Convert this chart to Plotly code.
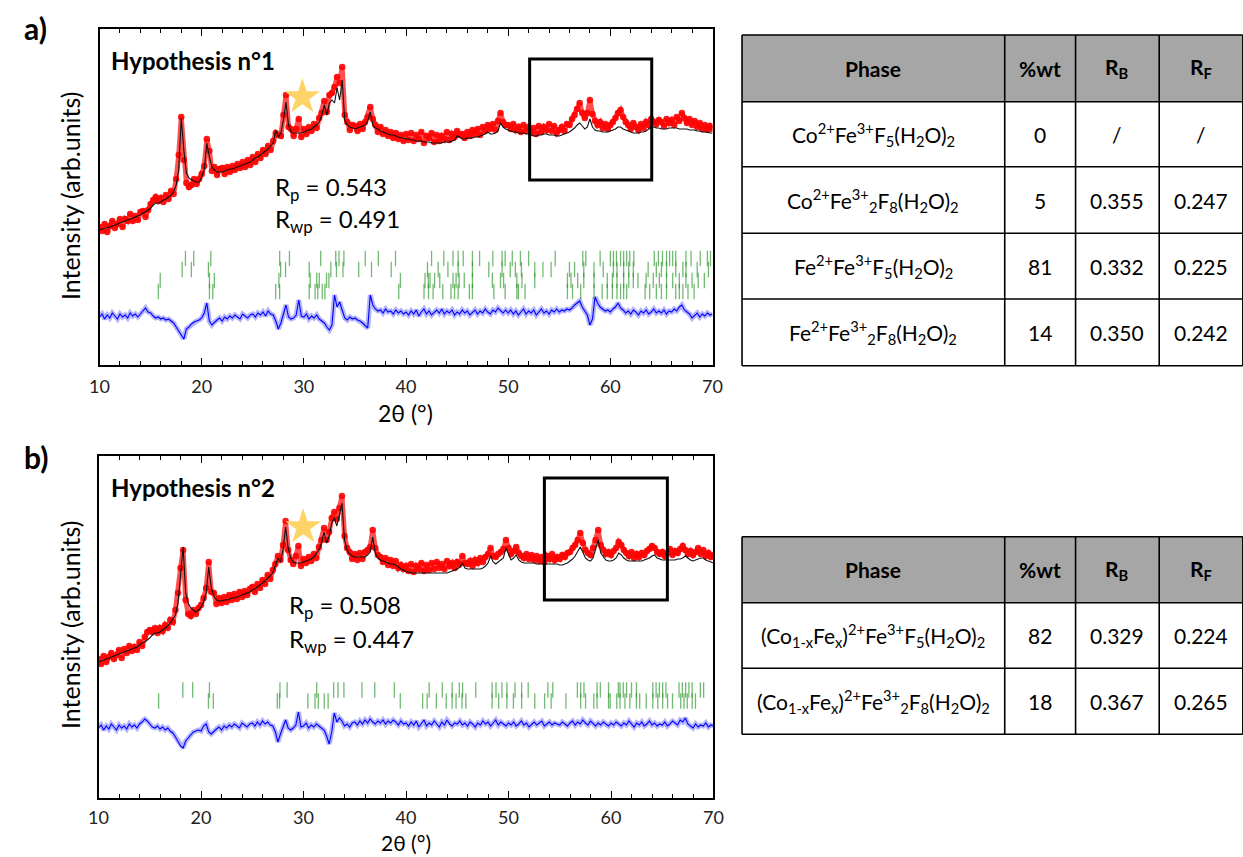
import numpy as np
import plotly.graph_objects as go

W, H = 1243, 857

# ---------------- DATA ----------------
# measurement grid (2theta, degrees), 0.25 deg step from 10 to 70
two_theta = np.round(np.arange(10, 70.001, 0.25), 2)

# Panel a) Hypothesis n°1 (arbitrary intensity units)
obs_a = [
    138,134,141,133,139,144,137,141,146,138,146,144,151,144,149,145,153,154,148,155,
    161,165,168,164,167,163,170,166,174,171,186,210,248,205,182,178,180,186,181,186,
    191,199,226,214,194,198,190,196,197,191,198,193,199,195,201,197,203,198,205,200,
    208,203,211,207,215,211,219,215,224,232,230,229,250,270,238,236,229,236,246,228,
    236,231,238,234,241,237,247,252,264,253,270,272,278,288,282,298,250,243,235,240,
    239,234,241,236,243,248,258,246,240,233,238,231,235,229,233,227,232,226,230,224,
    231,225,232,224,230,226,233,222,229,227,232,223,230,224,229,226,233,225,231,228,
    234,230,231,227,233,229,235,231,236,230,238,234,240,236,241,235,244,252,243,240,
    240,236,241,235,238,233,240,234,238,232,237,231,239,233,238,235,241,234,239,232,
    235,238,234,241,240,246,250,256,262,252,247,252,265,251,244,240,243,237,241,236,
    240,243,247,252,255,248,243,240,236,242,238,235,241,237,243,240,246,243,241,245,
    243,239,246,242,245,240,248,244,252,247,242,246,240,244,238,242,236,240,235,239,
    236]
calc_a = [
    135,136,137,137,138,139,140,141,142,143,144,145,146,147,148,149,150,152,153,155,
    157,160,162,162,163,165,166,168,170,173,180,195,247,215,192,187,185,184,183,183,
    188,195,222,208,198,195,193,193,193,194,195,196,196,197,198,199,200,201,202,203,
    205,207,208,210,212,214,216,219,222,235,228,232,245,263,240,233,232,232,232,232,
    233,234,235,236,238,240,243,250,260,250,262,265,262,277,265,285,245,240,238,237,
    236,237,238,239,240,244,253,240,237,236,234,233,232,231,230,230,229,228,227,227,
    226,226,225,225,224,224,224,223,223,223,222,222,222,222,222,223,223,223,224,225,
    229,228,226,226,227,227,227,228,228,229,230,231,233,231,231,232,234,242,238,236,
    235,234,233,233,232,232,232,231,231,230,229,229,230,230,231,231,230,230,230,229,
    229,230,231,232,233,235,237,240,242,239,236,238,246,238,235,234,234,233,233,233,
    234,235,236,238,238,236,235,234,233,232,232,232,233,233,234,236,238,238,237,237,
    236,236,236,237,237,237,237,236,236,236,236,235,235,235,234,234,233,233,233,232,
    232]
diff_a = [
    48,51,46,50,47,52,49,46,51,48,50,47,52,49,51,48,51,54,57,53,
    52,49,47,48,46,47,45,46,44,42,38,34,30,26,36,38,41,43,44,45,
    47,52,62,44,40,43,45,47,44,48,46,49,47,50,48,46,51,49,47,50,
    51,48,52,50,53,49,54,51,50,44,36,42,52,60,48,46,47,50,65,49,
    48,51,46,49,47,50,46,44,42,38,35,40,70,58,63,55,47,45,48,46,
    47,45,44,42,39,37,70,60,56,54,55,52,56,53,54,51,55,52,54,51,
    53,50,54,51,55,49,53,56,51,54,50,53,55,52,56,51,54,52,55,50,
    53,51,55,52,54,50,53,55,51,54,52,56,53,51,55,53,57,54,52,55,
    52,55,51,54,50,53,56,51,54,52,55,50,53,56,52,54,51,55,53,56,
    53,55,54,56,55,57,60,62,64,58,54,50,40,46,68,62,58,56,54,55,
    53,56,58,62,57,55,52,54,51,55,53,50,54,52,55,51,53,56,52,54,
    52,55,51,54,53,56,54,58,60,55,53,51,47,50,52,48,51,49,52,50,
    51]

# Panel b) Hypothesis n°2
obs_b = [
    139,134,142,136,141,145,139,143,148,140,149,145,152,147,151,148,156,152,161,166,
    168,166,170,165,170,167,173,170,178,176,188,205,230,248,198,184,182,188,184,190,
    193,200,210,236,206,205,194,200,195,201,196,203,198,204,199,206,201,207,203,209,
    211,206,214,210,218,214,223,219,228,234,242,238,253,277,248,238,234,242,252,232,
    239,235,241,237,244,240,251,258,270,258,266,280,286,279,290,302,262,250,246,239,
    244,238,245,239,246,248,251,268,250,243,241,236,240,233,238,232,237,230,233,229,
    232,227,234,226,232,229,235,227,233,228,235,229,236,230,234,229,237,232,235,230,
    236,234,242,235,234,237,232,238,235,240,236,241,244,250,242,241,244,246,249,258,
    250,244,247,251,245,242,240,244,239,243,238,242,237,241,236,242,239,244,238,241,
    239,243,241,245,246,250,253,258,265,255,248,245,243,250,258,268,253,248,244,246,
    243,247,250,256,253,248,245,242,246,240,244,241,245,243,247,249,252,250,246,244,
    246,242,245,249,243,247,245,249,252,248,244,247,243,246,250,244,248,242,245,241,
    243]
calc_b = [
    136,137,138,139,140,141,142,143,144,145,146,147,148,149,150,151,153,155,156,158,
    160,163,165,165,166,168,170,172,175,179,183,195,225,251,205,195,190,188,186,188,
    191,196,205,231,210,202,198,197,197,198,198,199,200,200,201,202,203,204,205,206,
    208,209,211,213,215,217,220,222,225,232,240,236,248,271,250,240,236,235,235,235,
    236,237,238,239,241,244,248,255,266,255,262,275,280,272,282,295,258,248,244,242,
    241,241,241,241,241,243,246,261,245,240,238,237,236,235,234,234,233,231,229,228,
    226,226,225,225,225,225,225,225,225,225,225,225,225,225,225,225,225,226,227,228,
    229,231,235,230,229,229,229,229,229,229,230,232,235,242,236,234,236,238,240,250,
    244,238,240,243,238,236,235,235,235,235,235,234,234,234,234,234,234,234,234,234,
    233,233,234,235,237,239,242,246,251,246,240,238,237,240,248,258,245,241,238,237,
    237,238,240,245,243,240,238,237,237,237,237,237,237,238,239,240,242,243,240,239,
    238,238,238,238,238,238,239,239,240,242,240,238,237,238,239,240,240,238,237,236,
    235]
diff_b = [
    70,73,68,72,69,74,71,68,73,70,72,69,74,71,73,70,74,76,79,77,
    74,71,70,72,69,71,68,70,67,65,61,57,52,50,57,60,63,66,67,68,
    67,72,74,66,64,67,69,71,68,72,70,73,71,74,72,70,75,73,71,74,
    75,72,76,73,77,74,76,73,72,66,56,64,72,78,70,68,70,73,86,71,
    72,75,70,73,71,74,72,70,68,62,54,66,85,76,80,77,72,74,71,75,
    76,73,77,74,78,75,79,76,74,77,75,78,74,77,75,78,76,73,77,74,
    75,72,76,73,77,71,74,78,72,75,73,77,74,71,76,73,78,74,72,75,
    74,77,73,75,72,76,74,71,75,73,77,74,76,72,75,78,73,76,74,72,
    75,73,76,72,74,77,73,75,71,74,76,73,75,77,72,74,76,73,75,74,
    73,76,74,72,75,77,73,76,74,78,75,73,77,74,72,75,73,76,74,72,
    75,73,76,74,72,75,73,77,74,71,75,73,76,72,74,77,73,75,72,74,
    73,76,72,74,77,75,73,78,76,80,74,72,70,74,71,73,72,75,71,73,
    72]

# Bragg reflection positions (deg), one list per phase row
bragg_a = [
    [18.41, 19.22, 20.89, 27.63, 28.59, 31.65, 33.12, 33.44, 33.92, 36.01, 37.29, 38.97,
     42.5, 43.7, 44.6, 45.1, 45.6, 46.5, 47.2, 48.5, 49.4, 49.7, 50.4, 51.2, 52.0, 54.6,
     57.3, 57.6, 59.0, 60.0, 60.3, 60.6, 61.0, 61.3, 61.6, 61.9, 62.3, 64.3, 64.7, 65.1,
     65.5, 65.8, 66.1, 66.4, 67.4, 67.9, 68.8, 69.5, 69.8],
    [18.09, 18.99, 20.66, 27.73, 28.21, 30.52, 32.64, 33.19, 33.83, 35.37, 36.62, 38.55,
     42.1, 43.15, 44.1, 45.1, 46.5, 48.1, 49.4, 50.2, 50.7, 51.3, 52.6, 53.4, 54.2, 56.0,
     56.5, 57.4, 58.4, 59.3, 60.3, 60.65, 61.3, 61.8, 62.25, 63.7, 64.5, 65.0, 65.5, 66.4,
     67.1, 67.4, 68.5, 69.6],
    [15.94, 20.76, 21.24, 27.56, 30.62, 31.26, 31.51, 32.22, 32.45, 39.45, 41.86, 42.18,
     42.35, 42.8, 43.3, 44.6, 44.9, 45.2, 45.7, 46.5, 48.45, 49.25, 49.55, 50.85, 51.35,
     52.6, 55.8, 56.15, 56.8, 57.4, 58.4, 59.7, 60.2, 60.65, 61.3, 61.8, 62.25, 62.7, 63.5,
     64.2, 64.8, 65.5, 66.1, 66.75, 67.4, 68.0, 68.6, 69.2],
    [15.75, 20.76, 21.08, 27.24, 27.63, 30.52, 31.1, 31.36, 31.8, 32.06, 39.29, 41.76,
     42.2, 42.65, 43.6, 44.4, 44.75, 45.1, 46.2, 46.5, 48.6, 49.7, 50.85, 51.0, 51.65, 55.8,
     56.3, 57.1, 58.4, 59.2, 59.7, 60.2, 60.65, 61.0, 61.3, 61.6, 63.4, 63.85, 64.5, 65.0,
     65.5, 66.4, 66.75, 67.1, 67.6, 68.2],
]
bragg_a_level = [106.5, 95.5, 84.5, 73.5]

bragg_b = [
    [18.22, 19.18, 20.82, 27.7, 28.4, 31.28, 32.94, 33.36, 33.94, 35.7, 36.95, 38.86,
     42.26, 43.54, 44.5, 45.2, 45.52, 46.8, 48.4, 48.78, 49.36, 49.84, 50.64, 51.28, 51.92,
     53.84, 54.32, 56.72, 57.04, 57.36, 58.64, 58.96, 59.76, 60.72, 60.88, 61.2, 61.52,
     62.0, 62.48, 64.08, 64.4, 64.72, 65.04, 65.36, 66.64, 66.96, 67.28, 67.6, 67.92,
     68.72, 69.04],
    [15.86, 20.72, 21.2, 27.44, 27.66, 30.42, 31.12, 31.44, 32.02, 32.4, 39.44, 41.62,
     42.06, 42.96, 43.92, 44.5, 44.88, 45.46, 45.84, 48.4, 49.04, 49.84, 50.48, 51.28,
     52.56, 53.52, 54.16, 55.6, 57.04, 57.52, 58.32, 58.64, 59.76, 59.92, 60.56, 60.88,
     61.36, 61.84, 62.48, 62.8, 63.44, 64.08, 64.56, 65.04, 65.52, 66.0, 66.8, 67.12,
     67.44, 67.92, 68.24],
]
bragg_b_level = [108, 97]

# impurity marker (star) and zoom boxes
star_a = (29.85, 268)
star_b = (29.97, 271)
box_a = (52.1, 64.05, 185, 306)
box_b = (53.5, 65.5, 198, 320)

rfac_a = ("0.543", "0.491")
rfac_b = ("0.508", "0.447")

# tables
tab_header = ["Phase", "%wt", "R<sub>B</sub>", "R<sub>F</sub>"]
tab_a_phase = ["Co<sup>2+</sup>Fe<sup>3+</sup>F<sub>5</sub>(H<sub>2</sub>O)<sub>2</sub>",
               "Co<sup>2+</sup>Fe<sup>3+</sup><sub>2</sub>F<sub>8</sub>(H<sub>2</sub>O)<sub>2</sub>",
               "Fe<sup>2+</sup>Fe<sup>3+</sup>F<sub>5</sub>(H<sub>2</sub>O)<sub>2</sub>",
               "Fe<sup>2+</sup>Fe<sup>3+</sup><sub>2</sub>F<sub>8</sub>(H<sub>2</sub>O)<sub>2</sub>"]
tab_a_wt = ["0", "5", "81", "14"]
tab_a_rb = ["/", "0.355", "0.332", "0.350"]
tab_a_rf = ["/", "0.247", "0.225", "0.242"]
tab_b_phase = ["(Co<sub>1-x</sub>Fe<sub>x</sub>)<sup>2+</sup>Fe<sup>3+</sup>F<sub>5</sub>(H<sub>2</sub>O)<sub>2</sub>",
               "(Co<sub>1-x</sub>Fe<sub>x</sub>)<sup>2+</sup>Fe<sup>3+</sup><sub>2</sub>F<sub>8</sub>(H<sub>2</sub>O)<sub>2</sub>"]
tab_b_wt = ["82", "18"]
tab_b_rb = ["0.329", "0.367"]
tab_b_rf = ["0.224", "0.265"]

for arr in (obs_a, calc_a, diff_a, obs_b, calc_b, diff_b):
    assert len(arr) == len(two_theta), len(arr)

# ---------------- FIGURE ----------------
FONT = "Lato"
fig = go.Figure()


def px(x):
    return x / W


def py(y):
    return 1 - y / H


def add_panel(obs, calc, diff, bragg, levels, star, xa, ya):
    fig.add_trace(go.Scatter(x=two_theta, y=obs, mode="lines+markers",
                             line=dict(color="rgba(255,20,20,0.75)", width=5),
                             marker=dict(color="rgba(255,0,0,0.9)", size=6.5),
                             xaxis=xa, yaxis=ya, showlegend=False))
    fig.add_trace(go.Scatter(x=two_theta, y=calc, mode="lines",
                             line=dict(color="#111111", width=1.1),
                             xaxis=xa, yaxis=ya, showlegend=False))
    fig.add_trace(go.Scatter(x=two_theta, y=diff, mode="lines",
                             line=dict(color="rgba(40,40,255,0.35)", width=5),
                             xaxis=xa, yaxis=ya, showlegend=False))
    fig.add_trace(go.Scatter(x=two_theta, y=diff, mode="lines",
                             line=dict(color="#0000ff", width=1.1),
                             xaxis=xa, yaxis=ya, showlegend=False))
    for pos, lev in zip(bragg, levels):
        fig.add_trace(go.Scatter(x=pos, y=[lev] * len(pos), mode="markers",
                                 marker=dict(symbol="line-ns", size=11,
                                             line=dict(color="rgba(20,140,20,0.6)", width=1.3)),
                                 xaxis=xa, yaxis=ya, showlegend=False))
    fig.add_trace(go.Scatter(x=[star[0]], y=[star[1]], mode="markers",
                             marker=dict(symbol="star", size=27, color="#FFD466",
                                         line=dict(width=0)),
                             xaxis=xa, yaxis=ya, showlegend=False))


add_panel(obs_a, calc_a, diff_a, bragg_a, bragg_a_level, star_a, "x", "y")
add_panel(obs_b, calc_b, diff_b, bragg_b, bragg_b_level, star_b, "x2", "y2")

xcommon = dict(range=[10, 70], dtick=10, tick0=10, ticks="inside", ticklen=7, tickwidth=1.3,
               tickcolor="black", showline=True, linecolor="black", linewidth=2, mirror="ticks",
               showgrid=False, zeroline=False,
               minor=dict(dtick=2, ticks="inside", ticklen=4, tickwidth=1, tickcolor="black"),
               tickfont=dict(family=FONT, size=18, color="#222"))
ycommon = dict(showticklabels=False, ticks="", showline=True, linecolor="black", linewidth=2,
               mirror=True, showgrid=False, zeroline=False)

fig.update_layout(
    width=W, height=H, margin=dict(l=0, r=0, t=0, b=0),
    paper_bgcolor="white", plot_bgcolor="white",
    xaxis=dict(domain=[px(91), px(714)], anchor="y", ticklabelstandoff=4, **xcommon),
    yaxis=dict(domain=[py(365), py(29)], range=[0, 336], anchor="x", **ycommon),
    xaxis2=dict(domain=[px(90), px(715)], anchor="y2", ticklabelstandoff=2, **xcommon),
    yaxis2=dict(domain=[py(798), py(456)], range=[0, 342], anchor="x2", **ycommon),
)

shapes = []
for (x0, x1, y0, y1), xr, yr in ((box_a, "x", "y"), (box_b, "x2", "y2")):
    shapes.append(dict(type="rect", xref=xr, yref=yr, x0=x0, x1=x1, y0=y0, y1=y1,
                       line=dict(color="black", width=3)))

ann = []


def text(x, y, s, size, bold=False, xanchor="center", yanchor="middle", angle=0, color="black"):
    ann.append(dict(x=px(x), y=py(y), xref="paper", yref="paper", text=(f"<b>{s}</b>" if bold else s),
                    showarrow=False, xanchor=xanchor, yanchor=yanchor, textangle=angle,
                    font=dict(family=FONT, size=size, color=color)))


# panel labels, titles
text(26, 28, "a)", 30, bold=True)
text(26, 457, "b)", 30, bold=True)
text(101, 60, "Hypothesis n°1", 24, bold=True, xanchor="left")
text(101, 488, "Hypothesis n°2", 24, bold=True, xanchor="left")
text(402, 413, "2θ (°)", 23)
text(402, 842, "2θ (°)", 21)
text(61, 196, "Intensity (arb.units)", 25, angle=-90)
text(61, 625, "Intensity (arb.units)", 25, angle=-90)
text(267, 188, f"R<sub>p</sub> = {rfac_a[0]}", 24, xanchor="left")
text(267, 221, f"R<sub>wp</sub> = {rfac_a[1]}", 24, xanchor="left")
text(282, 606, f"R<sub>p</sub> = {rfac_b[0]}", 24, xanchor="left")
text(282, 640, f"R<sub>wp</sub> = {rfac_b[1]}", 24, xanchor="left")

# tables
cols = [744, 1011, 1083, 1168, 1253]


def table(rows_y, header, body_cols):
    top, hb = rows_y[0], rows_y[1]
    shapes.append(dict(type="rect", xref="paper", yref="paper", x0=px(cols[0]), x1=px(cols[-1]),
                       y0=py(hb), y1=py(top), fillcolor="#A6A6A6", line=dict(width=0), layer="below"))
    for yy in rows_y:
        shapes.append(dict(type="line", xref="paper", yref="paper", x0=px(cols[0]), x1=px(cols[-1]),
                           y0=py(yy), y1=py(yy), line=dict(color="black", width=1.6)))
    for xx in cols:
        shapes.append(dict(type="line", xref="paper", yref="paper", x0=px(xx), x1=px(xx),
                           y0=py(rows_y[0]), y1=py(rows_y[-1]), line=dict(color="black", width=1.6)))
    centers = [(cols[i] + cols[i + 1]) / 2 for i in range(4)]
    hy = (top + hb) / 2
    for c, h in zip(centers, header):
        text(c, hy, h, 21, bold=True)
    for r in range(len(rows_y) - 2):
        yc = (rows_y[r + 1] + rows_y[r + 2]) / 2
        for c, col in zip(centers, body_cols):
            text(c, yc, col[r], 21)


table([35, 101.7, 166.7, 233.3, 299, 365.7], tab_header, [tab_a_phase, tab_a_wt, tab_a_rb, tab_a_rf])
table([536.7, 602.7, 668.3, 734.3], tab_header, [tab_b_phase, tab_b_wt, tab_b_rb, tab_b_rf])

fig.update_layout(shapes=shapes, annotations=ann)
fig.write_html("out.html", config={"displayModeBar": False},
               post_script="document.body.style.margin='0px';document.body.style.overflow='hidden';")
